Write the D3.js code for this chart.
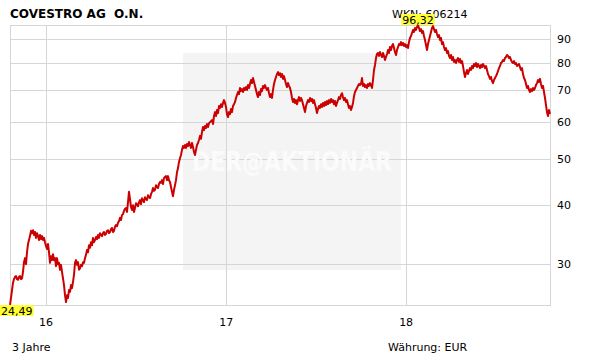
<!DOCTYPE html>
<html><head><meta charset="utf-8">
<script src="https://cdn.jsdelivr.net/npm/d3@7"></script>
<style>
html,body{margin:0;padding:0;background:#fff;}
svg{display:block;font-family:"DejaVu Sans",Verdana,sans-serif;}
</style></head><body><div id="chart"></div>
<script>
// Covestro AG – 3 years, daily closes (~1 sample per pixel)
const TITLE = 'COVESTRO AG  O.N.';
const WKN = 'WKN: 606214';
const PERIOD = '3 Jahre';
const CURRENCY = 'Währung: EUR';
const START = '2015-10-20', END = '2018-10-20';
const closes = [
  24.49,25.35,26.35,27.3,27.8,28.1,28.2,27.8,27.7,28.1,
  28.2,27.8,27.9,28.8,30.2,30.8,29.9,31.7,33.0,33.65,
  34.3,35.2,34.8,35.3,34.5,35.0,34.0,34.8,34.3,33.65,
  34.5,33.8,34.3,33.65,34.0,33.3,32.7,32.2,33.0,31.7,
  30.1,31.1,30.5,31.4,30.5,30.8,29.6,30.8,29.9,30.1,
  29.1,29.8,28.8,27.9,27.0,25.7,24.85,25.7,25.35,26.35,
  26.1,27.0,26.6,27.4,28.4,30.1,30.5,29.8,30.2,29.1,
  29.3,29.8,29.6,30.2,30.1,30.8,31.3,32.05,31.7,32.8,
  32.4,33.3,32.8,34.0,33.3,33.65,34.15,33.8,34.5,34.0,
  34.8,34.5,34.3,34.8,35.0,34.5,34.7,35.2,35.3,34.8,
  35.0,35.5,35.7,35.0,35.2,35.9,36.2,36.0,36.6,36.9,
  37.5,37.1,38.0,38.2,38.8,39.2,39.35,38.6,40.5,42.6,
  41.1,39.55,38.97,39.9,38.6,39.35,40.3,40.1,39.7,40.5,
  40.9,40.1,41.3,40.9,40.5,41.5,41.1,40.9,41.9,41.5,
  41.3,42.1,42.6,43.4,42.8,43.0,44.0,43.6,43.4,44.25,
  44.7,44.5,45.1,44.25,45.6,45.8,46.0,45.1,46.0,45.1,
  44.7,43.6,42.6,41.7,43.0,44.0,45.1,46.9,47.85,49.3,
  50.2,51.0,52.3,53.3,52.8,53.55,52.8,53.8,53.3,54.35,
  53.55,52.8,54.1,53.0,51.75,51.0,52.3,53.55,54.1,54.9,
  56.0,55.2,57.1,58.5,57.6,58.8,58.2,59.35,58.5,59.6,
  59.9,60.2,60.5,59.35,61.7,62.9,61.7,63.55,62.6,64.8,
  64.2,65.4,64.5,65.8,66.7,65.8,64.5,62.3,61.4,62.9,
  62.3,63.9,62.9,64.8,65.4,66.1,67.4,68.4,69.4,68.7,
  70.8,69.7,70.4,69.4,70.8,70.1,71.1,70.1,71.8,70.8,
  72.2,73.6,72.5,74.3,72.9,71.5,70.1,68.7,67.7,69.4,
  68.4,70.4,69.7,71.5,70.8,71.8,70.8,70.1,70.8,69.0,
  67.7,68.7,67.4,70.1,72.2,73.6,74.7,75.8,76.5,75.4,
  76.1,74.7,75.8,74.0,75.0,73.6,72.2,71.1,72.5,71.5,
  70.8,69.4,67.4,66.1,67.1,65.8,66.7,65.4,66.7,67.7,
  66.4,67.4,66.7,65.4,64.2,62.9,64.8,65.8,66.7,66.1,
  67.4,66.4,67.1,65.8,66.7,65.4,64.2,62.6,63.9,64.8,
  64.2,65.4,64.5,65.8,64.8,66.1,65.1,66.4,65.4,66.7,
  65.8,67.1,66.1,66.7,65.4,66.4,64.8,65.8,66.7,67.7,
  67.1,68.4,69.0,67.7,66.7,67.4,66.1,66.7,65.4,64.2,
  64.8,63.55,64.5,65.8,68.0,69.4,70.1,70.8,71.5,72.2,
  71.8,72.2,74.3,71.5,72.2,71.1,71.8,70.8,72.2,71.5,
  72.5,71.8,70.8,73.6,77.3,79.2,81.95,83.6,84.0,82.8,
  84.4,83.2,82.35,84.0,82.8,81.15,82.35,83.6,85.2,84.0,
  86.5,85.2,86.9,87.75,86.05,84.4,83.2,85.2,86.5,87.75,
  87.3,88.6,87.3,88.2,86.9,87.75,86.5,87.3,86.05,88.6,
  90.4,91.25,92.6,94.0,93.1,94.9,94.0,95.4,96.32,94.9,
  93.5,94.4,92.6,93.5,91.25,89.5,87.3,85.2,87.75,89.5,
  91.25,93.1,94.9,95.8,94.4,93.1,94.0,92.15,90.8,91.7,
  89.5,90.4,87.75,88.6,86.5,85.2,86.05,84.0,84.8,82.8,
  81.95,83.2,81.15,82.35,80.4,81.15,80.0,81.15,81.95,80.4,
  81.55,80.0,80.75,78.8,76.5,74.7,76.15,77.3,75.8,76.9,
  78.0,77.3,78.8,78.0,79.6,78.8,80.0,78.4,79.6,78.8,
  78.0,79.2,78.4,79.6,78.8,78.0,78.8,77.3,75.8,75.0,
  74.0,74.7,73.2,72.5,73.6,74.3,75.0,75.8,76.9,78.0,
  78.8,80.0,80.4,81.15,80.75,81.95,82.35,83.2,82.8,81.95,
  82.35,81.15,80.4,80.0,80.75,79.6,80.0,78.8,79.2,79.6,
  78.4,77.3,78.0,75.8,74.3,73.6,72.2,70.8,71.5,70.1,
  69.4,70.4,69.7,70.8,70.1,70.8,71.8,72.5,73.6,72.9,
  74.0,72.2,70.8,71.5,69.4,67.4,65.1,62.9,61.7,63.55,
  62.3
];
const yTicks = [30, 40, 50, 60, 70, 80, 90];
const xTicks = ['2016-01-01', '2017-01-01', '2018-01-01'];
const xTickLabels = ['16', '17', '18'];

const W = 611, H = 364;
const m = {t:25, r:61, b:59, l:10};
const parse = d3.utcParse('%Y-%m-%d');
const t0 = parse(START), t1 = parse(END);
const step = (t1 - t0) / (closes.length - 1);
const data = closes.map((v, i) => ({d: new Date(+t0 + i*step), v}));

const svg = d3.select('#chart').append('svg').attr('width', W).attr('height', H);
const x = d3.scaleUtc().domain([t0, t1]).range([m.l, W - m.r]);
const y = d3.scaleLog().domain(d3.extent(closes)).range([H - m.b, m.t]);
const x0 = m.l, x1 = W - m.r, y0 = m.t, y1 = H - m.b;
const GRID = '#d6d6d6';
const fmt = v => d3.format('.2f')(v).replace('.', ',');

// watermark panel
svg.append('rect').attr('x', 183).attr('y', 53).attr('width', 218).attr('height', 217).attr('fill', '#f4f4f4');

// grid
svg.append('g').selectAll('line').data(yTicks).join('line')
  .attr('x1', x0).attr('x2', x1).attr('y1', d => Math.round(y(d)) + .5).attr('y2', d => Math.round(y(d)) + .5)
  .attr('stroke', GRID);
svg.append('g').selectAll('line').data(xTicks).join('line')
  .attr('x1', d => Math.round(x(parse(d))) + .5).attr('x2', d => Math.round(x(parse(d))) + .5)
  .attr('y1', y0).attr('y2', y1).attr('stroke', GRID);
svg.append('rect').attr('x', x0 + .5).attr('y', y0 + .5).attr('width', x1 - x0).attr('height', y1 - y0)
  .attr('fill', 'none').attr('stroke', GRID);

svg.append('text').attr('x', 292).attr('y', 171).attr('text-anchor', 'middle')
  .attr('font-size', 27).attr('font-weight', 'bold').attr('fill', '#fbfbfb')
  .attr('textLength', 200).attr('lengthAdjust', 'spacingAndGlyphs').text('DER@AKTIONÄR');

// price line
svg.append('path').datum(data)
  .attr('d', d3.line().x(d => x(d.d)).y(d => y(d.v)))
  .attr('fill', 'none').attr('stroke', '#cc0000').attr('stroke-width', 2).attr('stroke-linejoin', 'round');

// axes labels
svg.append('g').selectAll('text').data(yTicks).join('text')
  .attr('x', x1 + 7).attr('y', d => y(d) + 4).attr('font-size', 11).attr('fill', '#000').text(d => d);
svg.append('g').selectAll('text').data(xTicks).join('text')
  .attr('x', d => x(parse(d))).attr('y', 326).attr('text-anchor', 'middle').attr('font-size', 11).attr('fill', '#000')
  .text((d, i) => xTickLabels[i]);

svg.append('text').attr('x', 10).attr('y', 18).attr('font-size', 12).attr('font-weight', 'bold')
  .style('white-space', 'pre').text(TITLE);
svg.append('text').attr('x', 392).attr('y', 18).attr('font-size', 11).text(WKN);
svg.append('text').attr('x', 12).attr('y', 351).attr('font-size', 11).text(PERIOD);
svg.append('text').attr('x', 388).attr('y', 351).attr('font-size', 11).text(CURRENCY);

// min / max markers
function marker(pt, top){
  const g = svg.append('g');
  const t = g.append('text').attr('font-size', 11).attr('fill', '#000').text(fmt(pt.v));
  const w = t.node().getComputedTextLength() + 2;
  let cx = x(pt.d) - w/2;
  cx = Math.max(0, Math.min(W - w, cx));
  const by = top ? y(pt.v) - 11 : y1;
  g.insert('rect', 'text').attr('x', cx).attr('y', by).attr('width', w).attr('height', 11).attr('fill', '#ffff33');
  t.attr('x', cx + 1).attr('y', by + 9.5);
}
const lo = data[d3.minIndex(data, d => d.v)], hi = data[d3.maxIndex(data, d => d.v)];
marker(lo, false);
marker(hi, true);
</script></body></html>
